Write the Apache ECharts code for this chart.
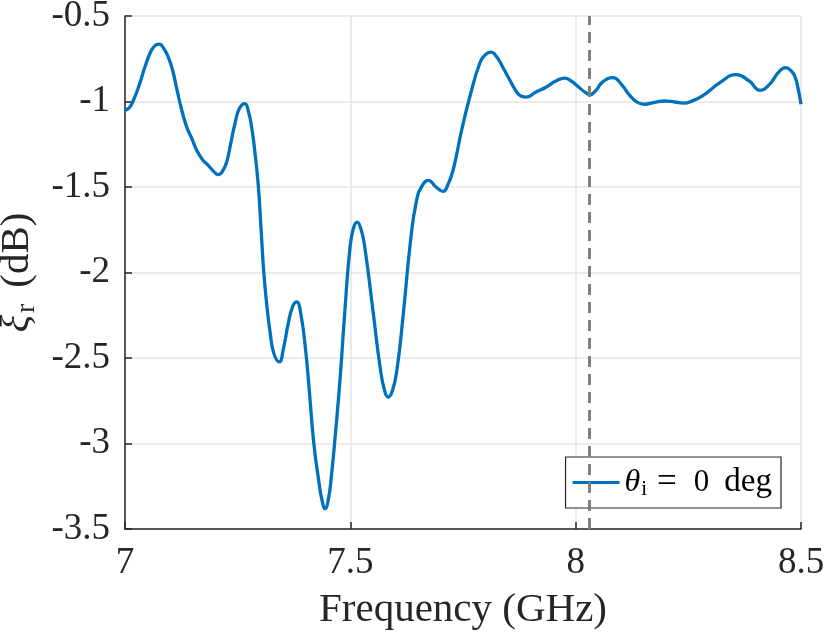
<!DOCTYPE html>
<html>
<head>
<meta charset="utf-8">
<script src="https://cdn.jsdelivr.net/npm/echarts@6/dist/echarts.min.js"></script>
<style>html,body{margin:0;padding:0;background:#fff}#c{width:830px;height:634px}</style>
</head>
<body>
<div id="c"></div>
<script>
var freq = [7.000,7.010,7.020,7.032,7.044,7.056,7.066,7.076,7.086,7.096,7.106,7.116,7.126,7.137,7.148,7.160,7.172,7.185,7.197,7.207,7.217,7.226,7.235,7.244,7.254,7.266,7.274,7.281,7.288,7.296,7.302,7.308,7.315,7.322,7.330,7.342,7.352,7.362,7.372,7.381,7.390,7.401,7.408,7.419,7.429,7.437,7.444,7.451,7.458,7.466,7.477,7.488,7.499,7.507,7.515,7.524,7.532,7.551,7.566,7.576,7.584,7.593,7.603,7.618,7.633,7.647,7.660,7.673,7.690,7.706,7.716,7.728,7.747,7.765,7.787,7.800,7.812,7.825,7.838,7.855,7.869,7.880,7.890,7.912,7.935,7.956,7.976,7.990,8.002,8.018,8.032,8.045,8.060,8.083,8.100,8.120,8.137,8.153,8.175,8.197,8.220,8.239,8.260,8.283,8.320,8.356,8.385,8.409,8.430,8.450,8.466,8.478,8.487,8.494,8.500];
var xi   = [-1.051,-1.035,-0.985,-0.900,-0.800,-0.715,-0.675,-0.665,-0.690,-0.740,-0.820,-0.940,-1.051,-1.150,-1.215,-1.290,-1.340,-1.375,-1.410,-1.428,-1.405,-1.350,-1.240,-1.129,-1.040,-1.012,-1.060,-1.150,-1.290,-1.500,-1.750,-2.000,-2.200,-2.350,-2.470,-2.523,-2.440,-2.300,-2.200,-2.172,-2.240,-2.460,-2.660,-3.000,-3.200,-3.330,-3.381,-3.330,-3.190,-2.970,-2.630,-2.220,-1.860,-1.740,-1.705,-1.750,-1.851,-2.240,-2.553,-2.690,-2.728,-2.694,-2.577,-2.230,-1.830,-1.578,-1.490,-1.461,-1.500,-1.525,-1.490,-1.402,-1.168,-0.974,-0.778,-0.725,-0.711,-0.740,-0.798,-0.880,-0.944,-0.970,-0.974,-0.945,-0.915,-0.880,-0.863,-0.880,-0.905,-0.940,-0.960,-0.935,-0.885,-0.860,-0.895,-0.964,-1.005,-1.016,-1.005,-0.997,-1.003,-1.009,-0.995,-0.964,-0.890,-0.843,-0.880,-0.935,-0.900,-0.830,-0.802,-0.820,-0.857,-0.930,-1.016];
var markerFreq = 8.03;
var xTickValues = [7, 7.5, 8, 8.5];
var xTickLabels = ['7', '7.5', '8', '8.5'];
var yTickValues = [-3.5, -3, -2.5, -2, -1.5, -1, -0.5];
var yTickLabels = ['-3.5', '-3', '-2.5', '-2', '-1.5', '-1', '-0.5'];
var seriesName = 'theta0';

function lab(vals, labels) {
  return function (v) {
    for (var i = 0; i < vals.length; i++) if (Math.abs(vals[i] - v) < 1e-6) return labels[i];
    return '';
  };
}
var pts = freq.map(function (f, i) { return [f, xi[i]]; });
var FONT = '"Liberation Serif", "DejaVu Serif", serif';
var AX = '#262626';

var chart = echarts.init(document.getElementById('c'));
chart.setOption({
  animation: false,
  backgroundColor: '#fff',
  grid: { left: 125, right: 29, top: 16, bottom: 105, containLabel: false, outerBoundsMode: 'none' },
  xAxis: {
    type: 'value', min: 7, max: 8.5, interval: 0.5,
    name: 'Frequency (GHz)', nameLocation: 'middle', nameGap: 61,
    nameTextStyle: { fontFamily: FONT, fontSize: 41, color: AX },
    axisLine: { show: true, lineStyle: { color: AX, width: 1.5 } },
    axisTick: { show: true, inside: true, length: 7, lineStyle: { color: AX, width: 1.5 } },
    axisLabel: { fontFamily: FONT, fontSize: 37, color: AX, margin: 16, hideOverlap: false, formatter: lab(xTickValues, xTickLabels) },
    splitLine: { show: true, lineStyle: { color: '#e5e5e5', width: 1.5 } }
  },
  yAxis: {
    type: 'value', min: -3.5, max: -0.5, interval: 0.5,
    name: '{i|ξ}{s|r}{n|(dB)}', nameLocation: 'middle', nameGap: 79, nameRotate: 90,
    nameTextStyle: {
      fontFamily: FONT, fontSize: 41, color: AX,
      rich: {
        i: { fontFamily: FONT, fontSize: 41, fontStyle: 'italic', color: AX },
        s: { fontFamily: FONT, fontSize: 28, color: AX, padding: [18, 0, 0, 2] },
        n: { fontFamily: FONT, fontSize: 41, color: AX, padding: [0, 0, 0, 16] }
      }
    },
    axisLine: { show: true, lineStyle: { color: AX, width: 1.5 } },
    axisTick: { show: true, inside: true, length: 7, lineStyle: { color: AX, width: 1.5 } },
    axisLabel: { fontFamily: FONT, fontSize: 37, color: AX, margin: 15, formatter: lab(yTickValues, yTickLabels) },
    splitLine: { show: true, lineStyle: { color: '#e5e5e5', width: 1.5 } }
  },
  legend: {
    show: true, right: 49, bottom: 126, orient: 'vertical',
    backgroundColor: '#fff', borderColor: AX, borderWidth: 1.2,
    padding: [8, 9, 8, 7], itemWidth: 47, itemHeight: 14, itemGap: 4,
    icon: 'path://M0,5.5 L47,5.5 L47,8.5 L0,8.5 Z',
    formatter: function () { return '{t|θ}{s|i}{e|=}{n|0}{d|deg}'; },
    textStyle: {
      fontFamily: FONT, fontSize: 31, color: '#000',
      rich: {
        t: { fontFamily: FONT, fontSize: 32, fontStyle: 'italic', color: '#000' },
        s: { fontFamily: FONT, fontSize: 21, color: '#000', padding: [13, 0, 0, 1] },
        e: { fontFamily: FONT, fontSize: 35, color: '#000', padding: [0, 0, 0, 10] },
        n: { fontFamily: FONT, fontSize: 31, color: '#000', padding: [0, 0, 0, 17] },
        d: { fontFamily: FONT, fontSize: 33, color: '#000', padding: [0, 0, 0, 15] }
      }
    },
    data: [seriesName]
  },
  series: [{
    name: seriesName, type: 'line', data: pts, smooth: 0.5, showSymbol: false,
    symbol: 'none', z: 3,
    lineStyle: { color: '#0072BD', width: 3.3 }, itemStyle: { color: '#0072BD' },
    markLine: {
      silent: true, symbol: ['none', 'none'], label: { show: false },
      lineStyle: { color: '#808080', width: 3, type: [11, 7] },
      data: [{ xAxis: markerFreq }]
    }
  }]
});
</script>
</body>
</html>
